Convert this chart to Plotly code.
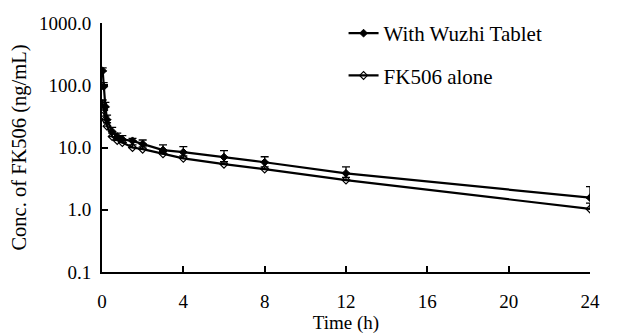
import plotly.graph_objects as go

time_h = [0.033, 0.083, 0.167, 0.25, 0.5, 0.75, 1, 1.5, 2, 3, 4, 6, 8, 12, 24]
wuzhi_conc = [170, 95, 45, 28, 18, 15, 13.5, 12.8, 11.4, 9.1, 8.4, 7.0, 5.8, 3.85, 1.56]
wuzhi_err = [20, 15, 8, 5, 3, 2, 2, 1.2, 1.8, 1.9, 1.9, 1.9, 1.3, 1.05, 0.8]
fk_conc = [50, 40, 28, 22, 15, 13, 12, 10, 9.4, 7.9, 6.7, 5.4, 4.5, 3.0, 1.03]
fk_err = [8, 6, 4, 3, 2, 1.5, 1.2, 1.0, 0.8, 0.7, 0.6, 0.5, 0.4, 0.3, 0.25]

y_tickvals = [0.1, 1, 10, 100, 1000]
y_ticktext = ["0.1", "1.0", "10.0", "100.0", "1000.0"]
x_tickvals = [0, 4, 8, 12, 16, 20, 24]

FONT = "Liberation Serif, Times New Roman, serif"

fig = go.Figure()
fig.add_trace(go.Scatter(
    x=time_h, y=wuzhi_conc, name="With Wuzhi Tablet", legendgroup="a",
    mode="lines+markers",
    line=dict(color="black", width=2.2),
    marker=dict(symbol="diamond", size=6, color="black", line=dict(color="black", width=1)),
    error_y=dict(type="data", array=wuzhi_err, arrayminus=[0]*len(wuzhi_err), symmetric=False,
                 color="black", thickness=1.3, width=4),
))
fig.add_trace(go.Scatter(
    x=time_h, y=fk_conc, name="FK506 alone", legendgroup="b",
    mode="lines+markers",
    line=dict(color="black", width=2.2),
    marker=dict(symbol="diamond-open", size=6, color="black", line=dict(color="black", width=1.2)),
    error_y=dict(type="data", array=fk_err, arrayminus=[0]*len(fk_err), symmetric=False,
                 color="black", thickness=1.3, width=4),
))

fig.update_layout(
    width=628, height=333,
    margin=dict(l=94, r=46, t=15, b=69, autoexpand=False),
    paper_bgcolor="white", plot_bgcolor="white",
    font=dict(family=FONT, size=19, color="black"),
    showlegend=True,
    legend=dict(x=0.495, y=0.985, yref="container", xanchor="left", yanchor="top",
                font=dict(family=FONT, size=21, color="black"),
                bgcolor="rgba(0,0,0,0)", tracegroupgap=12,
                traceorder="grouped"),
    xaxis=dict(range=[0, 24], tickvals=x_tickvals, ticks="inside", ticklen=6,
               tickwidth=2, tickcolor="black", showline=True, linecolor="black",
               linewidth=2, showgrid=False, zeroline=False, automargin=False,
               ticklabelstandoff=11, tickfont=dict(family=FONT, size=19),
               title=dict(text="Time (h)", font=dict(family=FONT, size=19), standoff=0)),
    yaxis=dict(type="log", range=[-1, 3], tickvals=y_tickvals, ticktext=y_ticktext,
               ticks="inside", ticklen=6, tickwidth=2, tickcolor="black",
               showline=True, linecolor="black", linewidth=2, showgrid=False,
               zeroline=False, ticklabelstandoff=5, automargin=False,
               tickfont=dict(family=FONT, size=19),
               title=dict(text="Conc. of FK506 (ng/mL)", font=dict(family=FONT, size=20.5), standoff=12)),
)

fig.write_html("out.html")
